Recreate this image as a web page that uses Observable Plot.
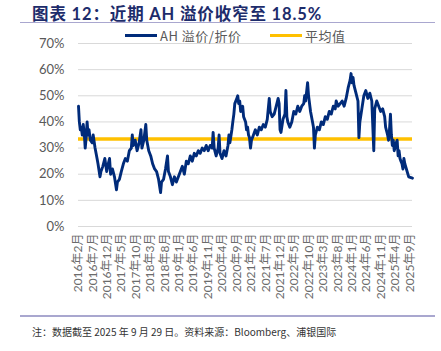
<!DOCTYPE html>
<html><head><meta charset="utf-8">
<script src="https://cdn.jsdelivr.net/npm/d3@7"></script>
<script src="https://cdn.jsdelivr.net/npm/@observablehq/plot@0.6"></script>
<style>
body{margin:0;background:#fff;font-family:Lato,"Noto Sans CJK SC",sans-serif;}
#wrap{position:relative;width:441px;height:351px;overflow:hidden;}
#title{position:absolute;left:32px;top:1px;font-size:16.5px;font-weight:bold;color:#1d2c6b;white-space:nowrap;letter-spacing:0.9px;font-family:"Noto Sans CJK SC",sans-serif;}
#title .n{font-family:Lato,"Noto Sans CJK SC";}
.rule{position:absolute;left:20px;width:415px;background:#a9a7cf;}
#leg{position:absolute;top:26px;left:0;width:441px;height:18px;font-size:13px;color:#595959;font-family:"Noto Sans CJK SC",sans-serif;}
.sw{position:absolute;top:8px;height:3px;width:32px;}
.lt{position:absolute;top:0;white-space:nowrap;letter-spacing:0.5px;}
#note{position:absolute;left:32px;top:324px;font-size:10px;color:#333;white-space:nowrap;font-family:"Noto Sans CJK SC",sans-serif;}
#chart{position:absolute;left:0;top:0;}
</style></head>
<body><div id="wrap">
<div id="title">图表 <span class="n">12</span>：近期 <span class="n">AH</span> 溢价收窄至 <span class="n">18.5%</span></div>
<div class="rule" style="top:22px;height:1px"></div>
<div id="chart"></div>
<div id="leg">
<div class="sw" style="left:125px;background:#002b7a"></div><div class="lt" style="left:160px">AH 溢价/折价</div>
<div class="sw" style="left:270px;background:#ffc000"></div><div class="lt" style="left:305px">平均值</div>
</div>
<div class="rule" style="top:315px;height:2px"></div>
<div id="note">注：数据截至 2025 年 9 月 29 日。资料来源：Bloomberg、浦银国际</div>
</div>
<script>
const dates = ["2016-02-01","2016-02-10","2016-02-20","2016-03-01","2016-03-12","2016-03-22","2016-04-01","2016-04-12","2016-04-22","2016-05-02","2016-05-12","2016-05-22","2016-06-05","2016-06-25","2016-07-05","2016-07-25","2016-08-15","2016-08-25","2016-09-15","2016-09-25","2016-10-15","2016-11-05","2016-11-25","2016-12-05","2016-12-25","2017-01-05","2017-01-25","2017-02-15","2017-03-08","2017-03-18","2017-04-08","2017-04-28","2017-05-20","2017-06-10","2017-07-01","2017-07-22","2017-08-12","2017-08-22","2017-09-01","2017-09-22","2017-10-12","2017-11-02","2017-11-22","2017-12-02","2017-12-22","2018-01-12","2018-01-22","2018-02-12","2018-03-05","2018-03-25","2018-04-15","2018-05-06","2018-05-27","2018-06-17","2018-06-27","2018-07-18","2018-08-08","2018-08-29","2018-09-08","2018-09-29","2018-10-20","2018-11-10","2018-12-01","2018-12-22","2019-01-12","2019-02-02","2019-02-23","2019-03-16","2019-04-06","2019-04-27","2019-05-18","2019-06-08","2019-06-29","2019-07-20","2019-08-10","2019-08-31","2019-09-21","2019-10-12","2019-11-02","2019-11-23","2019-12-14","2019-12-24","2020-01-04","2020-01-25","2020-02-15","2020-02-25","2020-03-06","2020-03-27","2020-04-17","2020-05-08","2020-05-29","2020-06-08","2020-06-18","2020-07-09","2020-07-19","2020-07-30","2020-08-09","2020-08-30","2020-09-09","2020-09-19","2020-09-30","2020-10-10","2020-10-31","2020-11-10","2020-12-01","2020-12-11","2020-12-22","2021-01-01","2021-01-11","2021-01-22","2021-02-01","2021-02-22","2021-03-14","2021-04-04","2021-04-25","2021-05-16","2021-06-06","2021-06-27","2021-07-18","2021-08-08","2021-08-18","2021-09-08","2021-09-29","2021-10-20","2021-11-10","2021-11-20","2021-11-30","2021-12-10","2021-12-31","2022-01-21","2022-01-31","2022-02-10","2022-02-20","2022-03-13","2022-04-03","2022-04-24","2022-05-15","2022-06-05","2022-06-26","2022-07-17","2022-08-07","2022-08-17","2022-08-27","2022-09-17","2022-09-27","2022-10-18","2022-11-08","2022-11-18","2022-11-28","2022-12-08","2022-12-29","2023-01-19","2023-02-09","2023-03-02","2023-03-23","2023-04-13","2023-05-04","2023-05-25","2023-06-15","2023-07-06","2023-07-16","2023-08-06","2023-08-27","2023-09-17","2023-10-08","2023-10-29","2023-11-19","2023-12-10","2023-12-20","2023-12-31","2024-01-10","2024-01-20","2024-02-10","2024-03-02","2024-03-12","2024-03-22","2024-04-12","2024-05-03","2024-05-24","2024-06-14","2024-07-05","2024-07-26","2024-08-16","2024-08-26","2024-09-16","2024-10-07","2024-10-28","2024-11-18","2024-12-09","2024-12-19","2025-01-09","2025-01-19","2025-01-29","2025-02-08","2025-02-18","2025-02-28","2025-03-10","2025-03-20","2025-04-10","2025-04-20","2025-04-30","2025-05-10","2025-05-20","2025-05-30","2025-06-10","2025-06-20","2025-06-30","2025-07-10","2025-08-20","2025-09-29"];
const premium = [46,40,37,38,35,39,36,30,34,40,35,37,33,32,35,30,26,24,19,21,23,26,21,23,26,20,22,19,14,17,18,21,24,26,25,29,30,35,31,33,29,32,37,30,33,39,33,29,27,24,22,21,18,13,17,18,22,27,21,19,16,19,17,19,21,23,20,25,24,27,25,28,27,29,28,30,29,31,29,31,30,36,30,27,30,35,28,26,29,27,31,35,32,37,40,43,47,49,50,47,48,44,46,42,40,37,38,35,34,30,33,35,37,35,38,37,39,38,41,49,44,42,43,46,49,47,37,36,41,43,52,42,40,38,40,44,43,46,44,46,47,50,48,55,50,44,40,38,30,35,38,37,40,39,42,41,44,43,46,45,48,46,47,48,46,49,53,56,58.5,55,57,54,51,48,34,40,45,50,52,49,51,48,29,45,48,46,44,45,42,38,35,33,37,43,35,31,33,29,32,33,27,29,26,25,24,22,26,24,19,18.5];
const averageValue = 33.5;
const tickDates = ["2016-02","2016-07","2016-12","2017-05","2017-10","2018-03","2018-08","2019-01","2019-06","2019-11","2020-04","2020-09","2021-02","2021-07","2021-12","2022-05","2022-10","2023-03","2023-08","2024-01","2024-06","2024-11","2025-04","2025-09"];
const yTicks = [0,10,20,30,40,50,60,70];

const data = dates.map((d,i)=>({date:new Date(d+"T00:00:00"), v:premium[i]}));
const ticks = tickDates.map(s=>new Date(s+"-01T00:00:00"));
const x0 = new Date("2016-02-01T00:00:00"), x1 = new Date("2025-09-29T00:00:00");

const chart = Plot.plot({
  width:441, height:315,
  marginTop:43, marginBottom:89, marginLeft:78, marginRight:29,
  style:{fontFamily:'Lato,"Noto Sans CJK SC",sans-serif', color:"#595959", background:"transparent"},
  x:{type:"utc", domain:[x0,x1]},
  y:{domain:[0,70]},
  marks:[
    Plot.gridY(yTicks,{stroke:"#d9d9d9", strokeOpacity:1, strokeWidth:1}),
    Plot.axisY(yTicks,{tickSize:0, tickPadding:14, tickFormat:d=>d+"%", fontSize:13, label:null}),
    Plot.axisX(ticks,{tickSize:0, tickPadding:7, tickRotate:-90, fontSize:12, label:null,
      tickFormat:d=>`${d.getFullYear()}年${d.getMonth()+1}月`, fill:"#6b6b6b"}),
    Plot.ruleY([averageValue],{stroke:"#ffc000", strokeWidth:3.5}),
    Plot.line(data,{x:"date", y:"v", stroke:"#002b7a", strokeWidth:2.9, strokeLinejoin:"round"})
  ]
});
document.getElementById("chart").appendChild(chart);
</script>
</body></html>
